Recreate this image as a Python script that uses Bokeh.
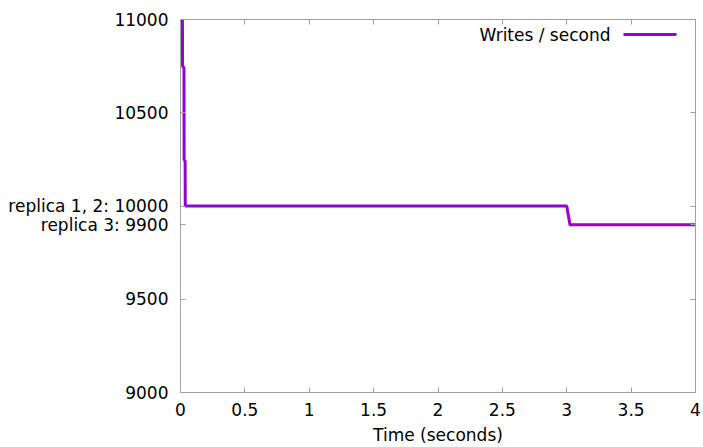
from bokeh.plotting import figure
from bokeh.models import FixedTicker, LinearAxis, Range1d, Label, BoxAnnotation
from bokeh.embed import file_html
from bokeh.resources import INLINE

# data
time_s = [0.015, 0.016, 0.027, 0.028, 0.036, 0.037, 1.0, 2.0, 3.0, 3.025, 3.5, 4.0]
writes_per_s = [11000, 10750, 10740, 10250, 10240, 10000, 10000, 10000, 10000, 9900, 9900, 9900]
x_ticks = [0, 0.5, 1, 1.5, 2, 2.5, 3, 3.5, 4]
x_tick_labels = ["0", "0.5", "1", "1.5", "2", "2.5", "3", "3.5", "4"]
y_ticks = [9000, 9500, 9900, 10000, 10500, 11000]
y_tick_labels = ["9000", "9500", "replica 3: 9900", "replica 1, 2: 10000", "10500", "11000"]
series_name = "Writes / second"
x_title = "Time (seconds)"

FONT = "DejaVu Sans"
FS = "17px"
GRAY = "#a0a0a0"
PURPLE = "#9400d3"

p = figure(width=703, height=447, output_backend="svg", toolbar_location=None,
           x_range=Range1d(0, 4), y_range=Range1d(9000, 11000),
           min_border_left=180, min_border_right=8, min_border_top=19, min_border_bottom=55)
p.grid.visible = False
p.outline_line_color = GRAY
p.outline_line_width = 1
p.background_fill_color = "white"
p.border_fill_color = "white"

p.line(time_s, writes_per_s, line_color=PURPLE, line_width=3)

def style(ax):
    ax.axis_line_color = GRAY
    ax.major_tick_line_color = GRAY
    ax.major_tick_in = 5
    ax.major_tick_out = 0
    ax.minor_tick_line_color = None
    ax.major_label_text_font = FONT
    ax.major_label_text_font_size = FS
    ax.major_label_text_color = "black"

xa = p.xaxis[0]
xa.ticker = FixedTicker(ticks=x_ticks)
xa.major_label_overrides = {t: l for t, l in zip(x_ticks, x_tick_labels)}
style(xa)
xa.major_label_standoff = 10
xa.axis_label = x_title
xa.axis_label_text_font = FONT
xa.axis_label_text_font_size = FS
xa.axis_label_text_font_style = "normal"
xa.axis_label_text_color = "black"
xa.axis_label_standoff = 6

ya = p.yaxis[0]
ya.ticker = FixedTicker(ticks=y_ticks)
ya.major_label_overrides = {t: l for t, l in zip(y_ticks, y_tick_labels)}
style(ya)
ya.major_label_standoff = 12

top = LinearAxis(ticker=FixedTicker(ticks=x_ticks))
style(top)
top.major_label_overrides = {t: "" for t in x_ticks}
top.major_label_standoff = 0
p.add_layout(top, "above")
right = LinearAxis(ticker=FixedTicker(ticks=y_ticks))
style(right)
right.major_label_overrides = {t: "" for t in y_ticks}
right.major_label_standoff = 0
p.add_layout(right, "right")

# legend (text before sample, gnuplot style); screen units are relative to the plot frame
lbl = Label(x=430, y=358, x_units="screen", y_units="screen", text=series_name,
            text_font=FONT, text_font_size=FS, text_color="black",
            text_align="right", text_baseline="middle")
p.add_layout(lbl)
sample = BoxAnnotation(left=443, right=496, bottom=356.5, top=359.5,
                       left_units="screen", right_units="screen",
                       bottom_units="screen", top_units="screen",
                       fill_color=PURPLE, fill_alpha=1.0, line_color=None)
p.add_layout(sample)

open("out.html", "w").write(file_html(p, INLINE))
